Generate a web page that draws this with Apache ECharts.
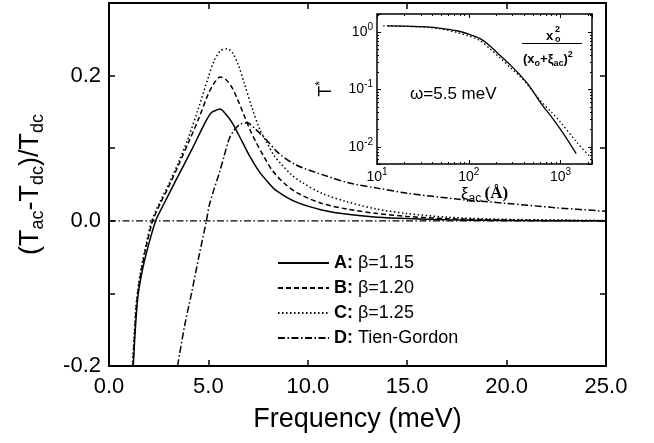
<!DOCTYPE html>
<html>
<head>
<meta charset="utf-8">
<script src="https://cdn.jsdelivr.net/npm/echarts@6/dist/echarts.min.js"></script>
<style>
html, body { margin: 0; padding: 0; background: #fff; }
#main { width: 654px; height: 443px; }
</style>
</head>
<body>
<div id="main"></div>
<script>
// 图例名称
var seriesNames = ['A: β=1.15', 'B: β=1.20', 'C: β=1.25', 'D: Tien-Gordon'];

// 主图数据 (频率 meV, 相对变化)
var freqA = [1.22,1.3,1.4,1.5,1.7,2.0,2.35,2.7,3.35,4.2,4.7,5.11,5.35,5.58,5.9,6.2,6.7,7.1,7.55,8.0,8.4,9.4,10.7,12.0,13.5,15,17,20,25];
var valA  = [-0.2,-0.16,-0.12,-0.095,-0.065,-0.032,0,0.02,0.055,0.1,0.128,0.148,0.152,0.154,0.146,0.135,0.109,0.088,0.068,0.053,0.042,0.026,0.015,0.009,0.005,0.003,0.0015,0.0005,0];

var freqB = [1.2,1.28,1.37,1.47,1.65,1.9,2.2,2.6,3.0,3.5,4.0,4.5,5.0,5.3,5.6,5.9,6.2,6.5,6.8,7.1,7.4,7.8,8.2,8.8,9.5,10.7,12.0,13.5,15,17,20,25];
var valB  = [-0.2,-0.16,-0.12,-0.095,-0.065,-0.032,0,0.025,0.047,0.077,0.108,0.14,0.175,0.19,0.198,0.194,0.183,0.165,0.145,0.125,0.108,0.088,0.07,0.052,0.038,0.024,0.016,0.01,0.006,0.003,0.001,0];

var freqC = [1.18,1.26,1.35,1.45,1.62,1.87,2.15,2.6,3.0,3.5,4.0,4.5,5.0,5.3,5.6,5.95,6.25,6.5,6.8,7.2,7.6,7.9,8.3,8.7,9.2,9.7,10.7,12.0,13.5,15,17,20,25];
var valC  = [-0.2,-0.16,-0.12,-0.095,-0.065,-0.032,0,0.028,0.05,0.081,0.115,0.155,0.198,0.221,0.234,0.237,0.23,0.215,0.19,0.155,0.125,0.11,0.09,0.077,0.063,0.053,0.038,0.026,0.016,0.01,0.005,0.002,0.0005];

var freqD = [3.45,3.8,4.15,4.5,4.9,5.05,5.3,5.55,5.8,6.05,6.3,6.6,6.95,7.3,7.9,8.5,9.4,10.9,12.1,13.5,15,17.5,20,22.5,25];
var valD  = [-0.2,-0.145,-0.1,-0.052,0,0.022,0.045,0.066,0.09,0.113,0.125,0.133,0.135,0.128,0.112,0.094,0.077,0.062,0.052,0.045,0.038,0.03,0.024,0.018,0.013];

// 零参考线
var zeroX = [0, 25];
var zeroY = [0, 0];

// 刻度标签
var yLabels = [-0.2, 0.0, 0.2];

// 插图数据 (xi_ac 埃, T*)
var insetXiSolid = [13,20,35,50,74,100,132,170,218,290,362,450,615,800,980,1200,1480];
var insetTSolid  = [1.3,1.29,1.25,1.18,1.07,0.93,0.785,0.58,0.40,0.26,0.18,0.12,0.057,0.033,0.021,0.013,0.0076];
var insetXiDot   = [11.7,20,35,50,74,100,132,170,218,290,362,430,615,800,980,1500,2100];
var insetTDot    = [1.3,1.28,1.23,1.15,1.0,0.87,0.72,0.52,0.36,0.235,0.17,0.125,0.062,0.04,0.028,0.012,0.0067];

var FONT = '"Liberation Sans", Arial, sans-serif';
var dashTypes = ['solid', [5, 3], [1.5, 2.5], [7, 2.5, 1.5, 2.5]];

function pairs(xs, ys) {
	return xs.map(function (x, i) { return [x, ys[i]]; });
}

function logLabel(v) {
	var e = Math.log10(v);
	if (Math.abs(e - Math.round(e)) > 1e-6) return '';
	return '{b|10}{sup|' + Math.round(e) + '}';
}

var chart = echarts.init(document.getElementById('main'));

var mainAxisLine = { onZero: false, lineStyle: { color: '#000', width: 2 } };
var mainTick = { inside: true, length: 6, lineStyle: { color: '#000', width: 1.5 } };
var insetAxisLine = { onZero: false, lineStyle: { color: '#000', width: 1.5 } };
var insetTick = { inside: true, length: 4, lineStyle: { color: '#000', width: 1 } };
var insetMinor = { show: true, splitNumber: 9, length: 2, lineStyle: { color: '#000', width: 1 } };
var supRich = {
	b: { fontSize: 14, lineHeight: 20, fontFamily: FONT, color: '#000' },
	sup: { fontSize: 10, lineHeight: 10, verticalAlign: 'top', fontFamily: FONT, color: '#000' }
};

var mainSeries = [[freqA, valA], [freqB, valB], [freqC, valC], [freqD, valD]].map(function (d, i) {
	return {
		name: seriesNames[i],
		type: 'line',
		xAxisIndex: 0,
		yAxisIndex: 0,
		symbol: 'none',
		smooth: 0.3,
		data: pairs(d[0], d[1]),
		itemStyle: { color: '#000' },
		lineStyle: { color: '#000', width: 1.5, type: dashTypes[i] }
	};
});

var option = {
	animation: false,
	backgroundColor: '#fff',
	textStyle: { fontFamily: FONT, color: '#000' },
	grid: [
		{ left: 109, top: 3, width: 497, height: 363 },
		{ left: 377, top: 14, width: 215, height: 150 }
	],
	legend: {
		data: seriesNames,
		orient: 'vertical',
		left: 272,
		top: 249,
		itemWidth: 51,
		itemHeight: 14,
		itemGap: 7,
		itemStyle: { opacity: 0 },
		textStyle: {
			fontSize: 18,
			color: '#000',
			rich: {
				b: { fontSize: 18, fontWeight: 'bold', fontFamily: FONT, color: '#000' },
				n: { fontSize: 18, fontFamily: FONT, color: '#000' }
			}
		},
		formatter: function (name) {
			var p = name.split(': ');
			return '{b|' + p[0] + ':} {n|' + p[1] + '}';
		}
	},
	xAxis: [
		{
			gridIndex: 0, type: 'value', position: 'bottom', min: 0, max: 25, interval: 5,
			axisLine: mainAxisLine, axisTick: mainTick, splitLine: { show: false },
			axisLabel: { fontSize: 22, color: '#000', margin: 10, formatter: function (v) { return v.toFixed(1); } },
			name: 'Frequency (meV)', nameLocation: 'middle', nameGap: 40,
			nameTextStyle: { fontSize: 27, color: '#000' }
		},
		{
			gridIndex: 0, type: 'value', position: 'top', min: 0, max: 25, interval: 5,
			axisLine: mainAxisLine, axisTick: mainTick, splitLine: { show: false },
			axisLabel: { show: false }
		},
		{
			gridIndex: 1, type: 'log', logBase: 10, position: 'bottom', min: 10, max: 2200,
			axisLine: insetAxisLine, axisTick: insetTick, minorTick: insetMinor, splitLine: { show: false },
			axisLabel: { margin: 3, formatter: logLabel, rich: supRich },
			name: '{g|ξ}{s|ac} {p|(Å)}', nameLocation: 'middle', nameGap: 19,
			nameTextStyle: {
				rich: {
					g: { fontSize: 17, lineHeight: 22, fontFamily: FONT, color: '#000' },
					s: { fontSize: 12, lineHeight: 12, verticalAlign: 'bottom', fontFamily: FONT, color: '#000' },
					p: { fontSize: 17, lineHeight: 22, fontFamily: '"Liberation Serif", serif', fontWeight: 'bold', color: '#000' }
				}
			}
		},
		{
			gridIndex: 1, type: 'log', logBase: 10, position: 'top', min: 10, max: 2200,
			axisLine: insetAxisLine, axisTick: insetTick, minorTick: insetMinor, splitLine: { show: false },
			axisLabel: { show: false }
		}
	],
	yAxis: [
		{
			gridIndex: 0, type: 'value', position: 'left', min: -0.2, max: 0.3, interval: 0.1,
			axisLine: mainAxisLine, axisTick: mainTick, splitLine: { show: false },
			axisLabel: {
				fontSize: 22, color: '#000', margin: 8,
				formatter: function (v) {
					for (var i = 0; i < yLabels.length; i++) {
						if (Math.abs(v - yLabels[i]) < 1e-6) return yLabels[i].toFixed(1);
					}
					return '';
				}
			},
			name: '{n|(T}{s|ac}{n|-T}{s|dc}{n|)/T}{s|dc}',
			nameLocation: 'middle', nameRotate: 90, nameGap: 62,
			nameTextStyle: {
				rich: {
					n: { fontSize: 27, lineHeight: 32, fontFamily: FONT, color: '#000' },
					s: { fontSize: 18, lineHeight: 14, verticalAlign: 'bottom', fontFamily: FONT, color: '#000' }
				}
			}
		},
		{
			gridIndex: 0, type: 'value', position: 'right', min: -0.2, max: 0.3, interval: 0.1,
			axisLine: mainAxisLine, axisTick: mainTick, splitLine: { show: false },
			axisLabel: { show: false }
		},
		{
			gridIndex: 1, type: 'log', logBase: 10, position: 'left', min: 0.005, max: 2.1,
			axisLine: insetAxisLine, axisTick: insetTick, minorTick: insetMinor, splitLine: { show: false },
			axisLabel: { margin: 4, formatter: logLabel, rich: supRich },
			name: '{t|T}{sup|*}', nameLocation: 'middle', nameRotate: 90, nameGap: 40,
			nameTextStyle: {
				rich: {
					t: { fontSize: 18, lineHeight: 22, fontFamily: FONT, color: '#000' },
					sup: { fontSize: 12, lineHeight: 12, verticalAlign: 'top', fontFamily: FONT, color: '#000' }
				}
			}
		},
		{
			gridIndex: 1, type: 'log', logBase: 10, position: 'right', min: 0.005, max: 2.1,
			axisLine: insetAxisLine, axisTick: insetTick, minorTick: insetMinor, splitLine: { show: false },
			axisLabel: { show: false }
		}
	],
	graphic: [
		{ type: 'text', left: 410, top: 86, style: { text: 'ω=5.5 meV', font: '17px ' + FONT, fill: '#000' } },
		// 公式 x_o^2 / (x_o+xi_ac)^2
		{ type: 'text', x: 546, y: 30, style: { text: 'x', font: 'bold 13px ' + FONT, fill: '#000' } },
		{ type: 'text', x: 555, y: 25, style: { text: '2', font: 'bold 9px ' + FONT, fill: '#000' } },
		{ type: 'text', x: 555, y: 35, style: { text: 'o', font: 'bold 9px ' + FONT, fill: '#000' } },
		{ type: 'line', shape: { x1: 522, y1: 43.5, x2: 582, y2: 43.5 }, style: { stroke: '#000', lineWidth: 1 } },
		{
			type: 'text', x: 523, y: 50,
			style: {
				text: '{n|(x}{s|o}{n|+ξ}{s|ac}{n|)}{p|2}',
				rich: {
					n: { font: 'bold 13px ' + FONT, lineHeight: 18, fill: '#000' },
					s: { font: 'bold 9px ' + FONT, lineHeight: 9, verticalAlign: 'bottom', fill: '#000' },
					p: { font: 'bold 9px ' + FONT, lineHeight: 9, verticalAlign: 'top', fill: '#000' }
				}
			}
		}
	],
	series: mainSeries.concat([
		{
			// 零线 (点划线)
			type: 'line', xAxisIndex: 0, yAxisIndex: 0, symbol: 'none', silent: true,
			data: pairs(zeroX, zeroY),
			lineStyle: { color: '#000', width: 1.2, type: dashTypes[3] }
		},
		{
			type: 'line', xAxisIndex: 2, yAxisIndex: 2, symbol: 'none', smooth: 0.3,
			data: pairs(insetXiSolid, insetTSolid),
			lineStyle: { color: '#000', width: 1.3, type: 'solid' }
		},
		{
			type: 'line', xAxisIndex: 2, yAxisIndex: 2, symbol: 'none', smooth: 0.3,
			data: pairs(insetXiDot, insetTDot),
			lineStyle: { color: '#000', width: 1.3, type: [1.5, 2.5] }
		}
	])
};

chart.setOption(option);
</script>
</body>
</html>
